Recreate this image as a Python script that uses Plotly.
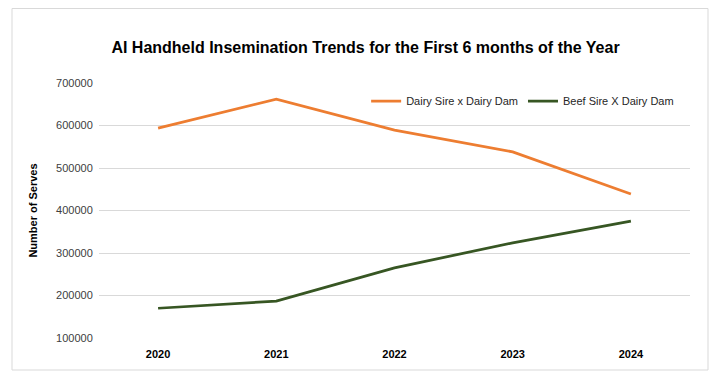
import plotly.graph_objects as go

years = ["2020", "2021", "2022", "2023", "2024"]
dairy_sire_dairy_dam = [594000, 662000, 589000, 538000, 439000]
beef_sire_dairy_dam = [170000, 187000, 265000, 324000, 375000]
y_ticks = [100000, 200000, 300000, 400000, 500000, 600000, 700000]

W, H = 715, 369
L, R, T, B = 91, 682, 75, 330  # plot area in figure pixels
PW, PH = R - L, B - T

fig = go.Figure()
fig.add_trace(go.Scatter(x=years, y=dairy_sire_dairy_dam, mode="lines",
                         name="Dairy Sire x Dairy Dam",
                         line=dict(color="#ED7D31", width=2.75)))
fig.add_trace(go.Scatter(x=years, y=beef_sire_dairy_dam, mode="lines",
                         name="Beef Sire X Dairy Dam",
                         line=dict(color="#375623", width=2.75)))

fig.update_layout(
    width=W, height=H,
    margin=dict(l=L, r=W - R, t=T, b=H - B, pad=0),
    paper_bgcolor="white", plot_bgcolor="white",
    font=dict(family="Liberation Sans, Arial, sans-serif", size=11, color="#404040"),
    title=dict(text="<b>AI Handheld Insemination Trends for the First 6 months of the Year</b>",
               x=0.5, xanchor="center", y=1 - 39 / H, yanchor="middle",
               font=dict(size=16, color="black")),
    showlegend=True,
    legend=dict(orientation="h", x=0.452, y=1 - 18 / PH, xanchor="left", yanchor="middle",
                bgcolor="rgba(0,0,0,0)", font=dict(size=11, color="#262626"),
                itemwidth=30, tracegroupgap=0),
    xaxis=dict(type="category", range=[-0.5, 4.5], showgrid=False, showline=False,
               ticks="outside", ticklen=6, tickcolor="rgba(0,0,0,0)",
               tickfont=dict(size=11, color="black"),
               tickprefix="<b>", ticksuffix="</b>"),
    yaxis=dict(range=[100000, 700000], tickvals=y_ticks, showgrid=True,
               gridcolor="#D9D9D9", gridwidth=1, zeroline=False, showline=False,
               tickformat="d", tickfont=dict(size=11, color="#404040"),
               ticks="outside", ticklen=3, tickcolor="rgba(0,0,0,0)",
               title=dict(text="<b>Number of Serves</b>", font=dict(size=11, color="black"),
                          standoff=16)),
    shapes=[dict(type="rect", xref="paper", yref="paper",
                 x0=(4 - L) / PW, x1=(700 - L) / PW,
                 y0=(B - 362) / PH, y1=(B - 0.5) / PH,
                 line=dict(color="#D9D9D9", width=1), layer="below")],
)

fig.write_html("out.html")
